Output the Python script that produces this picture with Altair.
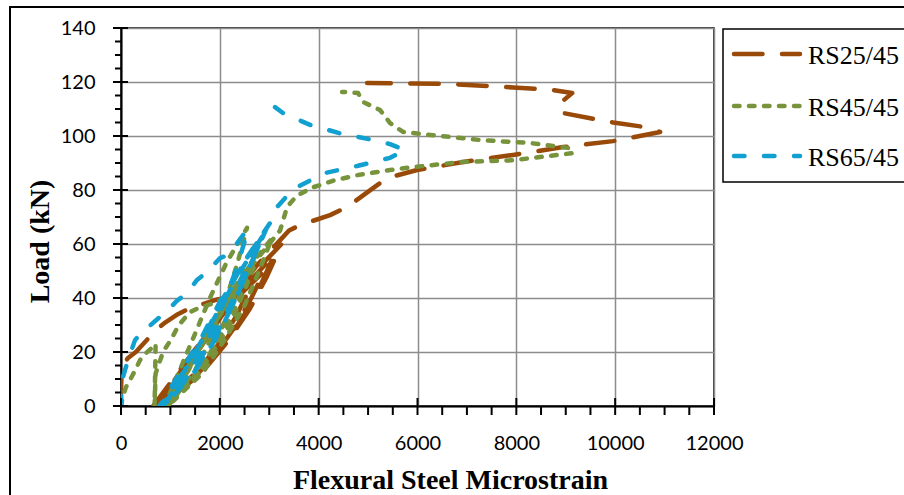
import altair as alt
import pandas as pd

series_names = ["RS25/45", "RS45/45", "RS65/45"]
series_colors = ["#994A08", "#77933C", "#12A0D0"]
series_dashes = [[28.5, 19.5], [5.5, 9.5], [10.5, 19.5]]

rs25_strain = [0, 0, 10, 40, 142, 300, 500, 700, 900, 1150, 1450, 1700, 1950, 2250, 2550,
               2322, 2056, 1714, 1296, 650,
               1055, 1460, 1888, 2338, 2900,
               2638, 2333, 1941, 1461, 720,
               1175, 1631, 2112, 2618, 3250,
               2954, 2608, 2163, 1620, 780,
               1200, 1620, 2060, 2550, 3100,
               2830, 2500, 2070, 1550, 760,
               1252, 1723, 2221, 2745, 3400,
               3623, 4231, 4575, 5101, 5385, 5992, 6923, 7935, 8947, 9960, 10911,
               10607, 9960, 8947, 8846, 9130, 8745, 7935, 6599, 4980]
rs25_load = [0, 6, 11, 15, 17.8, 20, 24, 28, 31, 34, 36.7, 38, 39.5, 40.5, 41.5,
             33, 25, 16.6, 8.3, 0,
             10, 20, 30, 40, 50,
             40, 30, 20, 10, 0,
             12, 24, 36, 48, 60,
             48, 36, 24, 12, 0,
             11, 22, 34, 45, 56,
             45, 34, 22, 11, 0,
             13, 26, 39, 52, 65,
             67, 70.7, 73.7, 80.7, 84.4, 87.4, 90.4, 93, 95.9, 98.1, 101.5,
             103.3, 105, 108.5, 111.5, 115.9, 117, 118, 119.3, 119.6]

rs45_strain = [0, 30, 100, 182, 280, 385, 500, 648, 700,
               690, 680,
               700, 850, 1025, 1170, 1397, 1600, 1862, 2100, 2300,
               2138, 1949, 1706, 1409, 950,
               1265, 1580, 1913, 2263, 2700,
               2482, 2227, 1899, 1499, 880,
               1181, 1481, 1799, 2133, 2550,
               2358, 2134, 1846, 1494, 950,
               1328, 1706, 2105, 2525, 3050,
               2794, 2496, 2113, 1644, 920,
               1250, 1600, 1950, 2300, 2700,
               2480, 2230, 1900, 1480, 900,
               1334, 1748, 2185, 2645, 3219, 3360, 3563, 3887, 4300, 4777,
               5445, 5911, 6923, 7935, 9150, 9089, 8279, 7267, 6255, 5709, 5445, 5243,
               4899, 4798, 4575, 4474]
rs45_load = [0, 3, 7, 9.6, 13, 17, 19.5, 21.9, 23,
             11, 0,
             12, 20, 25, 30, 34.8, 36.5, 38, 40, 41,
             33, 25, 16, 8, 0,
             10, 21, 31, 42, 52,
             42, 31, 21, 10, 0,
             13, 26, 40, 53, 66,
             53, 40, 26, 13, 0,
             12, 25, 37, 50, 62,
             50, 37, 25, 12, 0,
             11, 22, 33, 44, 55,
             44, 33, 22, 11, 0,
             13, 26, 39, 52, 65, 73.7, 78, 81, 83.5, 85.5,
             87.4, 88.5, 90.4, 91, 93.7, 95.5, 97.4, 98.5, 100.4, 101.5, 104.8, 109.6,
             112.6, 115.9, 116.3, 116.3]

rs65_strain = [0, 0, 30, 81, 180, 283, 450, 600, 789, 1000, 1134, 1336, 1538, 1741, 2004,
               2166, 2300, 2470, 2571,
               2355, 2105, 1782, 1389, 780,
               1214, 1648, 2039, 2473, 2950,
               2635, 2320, 1942, 1480, 850,
               1270, 1690, 2068, 2488, 2950,
               2640, 2329, 1956, 1501, 880,
               1284, 1688, 2052, 2456, 2900,
               2588, 2276, 1902, 1444, 820,
               1220, 1620, 1980, 2380, 2800,
               2500, 2200, 1830, 1390, 800,
               1240, 1680, 2080, 2520, 3016, 3158, 3320, 3563, 4130, 4777,
               5445, 5749, 5445, 5101, 4433, 3826, 3279, 3117]
rs65_load = [0, 6, 10, 13.3, 19, 24.4, 28, 30, 33, 36.5, 39, 41.8, 46.7, 49.6, 54.8,
             55.9, 59, 63.3, 65.2,
             52, 39, 26, 13, 0,
             13, 26, 40, 53, 66,
             53, 40, 26, 13, 0,
             13, 26, 40, 53, 66,
             53, 40, 26, 13, 0,
             13, 26, 38, 51, 64,
             51, 38, 26, 13, 0,
             12, 25, 37, 50, 62,
             50, 37, 25, 12, 0,
             13, 27, 40, 54, 67.8, 73.7, 77, 81.1, 86.3, 88.9,
             91.9, 94.8, 97, 98.5, 101, 104.1, 108.5, 110.7]

x_major_ticks = [0, 2000, 4000, 6000, 8000, 10000, 12000]
x_minor_ticks = [500, 1000, 1500, 2500, 3000, 3500, 4500, 5000, 5500, 6500, 7000, 7500,
                 8500, 9000, 9500, 10500, 11000, 11500]
y_major_ticks = [0, 20, 40, 60, 80, 100, 120, 140]
y_minor_ticks = [5, 10, 15, 25, 30, 35, 45, 50, 55, 65, 70, 75, 85, 90, 95,
                 105, 110, 115, 125, 130, 135]

rows = []
for name, xs, ys in zip(series_names, [rs25_strain, rs45_strain, rs65_strain],
                        [rs25_load, rs45_load, rs65_load]):
    for i, (a, b) in enumerate(zip(xs, ys)):
        rows.append({"series": name, "strain": a, "load": b, "idx": i})
df = pd.DataFrame(rows)

xscale = alt.Scale(domain=[0, 12000], nice=False, zero=False)
yscale = alt.Scale(domain=[0, 140], nice=False, zero=False)
cscale = alt.Scale(domain=series_names, range=series_colors)
dscale = alt.Scale(domain=series_names, range=series_dashes)
LW = 4.5

x_axis = alt.Axis(
    values=x_major_ticks, format="d", ticks=False,
    domainColor="black", domainWidth=2,
    grid=True, gridColor="#8c8c8c", gridWidth=1.5,
    labelFont="Lato", labelFontSize=20, labelColor="black", labelPadding=27,
    labelFlush=False,
    title="Flexural Steel Microstrain", titleFont="Liberation Serif",
    titleFontSize=28, titleFontWeight="bold", titleColor="black",
    titleX=329, titleY=82, titleAlign="center", titleBaseline="alphabetic",
)
y_axis = alt.Axis(
    values=y_major_ticks, ticks=False,
    domainColor="black", domainWidth=2,
    grid=True, gridColor="#8c8c8c", gridWidth=1.5,
    labelFont="Lato", labelFontSize=20, labelColor="black", labelPadding=26,
    labelFlush=False,
    title="Load (kN)", titleFont="Liberation Serif",
    titleFontSize=28, titleFontWeight="bold", titleColor="black",
    titleAngle=270, titleX=-81, titleY=213, titleAlign="center", titleBaseline="middle",
)

lines = alt.Chart(df).mark_line(
    strokeWidth=LW, strokeCap="round", strokeJoin="round", clip=True
).encode(
    x=alt.X("strain:Q", scale=xscale, axis=x_axis),
    y=alt.Y("load:Q", scale=yscale, axis=y_axis),
    color=alt.Color("series:N", scale=cscale, legend=None),
    strokeDash=alt.StrokeDash("series:N", scale=dscale, legend=None),
    order=alt.Order("idx:Q"),
)

xmaj = alt.Chart(pd.DataFrame({"v": x_major_ticks})).mark_rule(color="black", strokeWidth=2).encode(
    x=alt.X("v:Q", scale=xscale), y=alt.value(370), y2=alt.value(387))
xmin = alt.Chart(pd.DataFrame({"v": x_minor_ticks})).mark_rule(color="black", strokeWidth=2).encode(
    x=alt.X("v:Q", scale=xscale), y=alt.value(378), y2=alt.value(387))
ymaj = alt.Chart(pd.DataFrame({"v": y_major_ticks})).mark_rule(color="black", strokeWidth=2).encode(
    y=alt.Y("v:Q", scale=yscale), x=alt.value(-8), x2=alt.value(7))
ymin = alt.Chart(pd.DataFrame({"v": y_minor_ticks})).mark_rule(color="black", strokeWidth=2).encode(
    y=alt.Y("v:Q", scale=yscale), x=alt.value(-6), x2=alt.value(0))

frame = alt.Chart(pd.DataFrame({"a": [0]})).mark_rect(
    filled=False, stroke="black", strokeWidth=2
).encode(x=alt.value(-111), x2=alt.value(900), y=alt.value(-21), y2=alt.value(480))

# legend box and entries
legend_box = alt.Chart(pd.DataFrame({"a": [0]})).mark_rect(
    fill="white", stroke="black", strokeWidth=1.5
).encode(x=alt.value(602), x2=alt.value(800), y=alt.value(1), y2=alt.value(154))

legend_layers = [legend_box]
row_y = [26, 78, 128]
for name, ry in zip(series_names, row_y):
    ldf = pd.DataFrame({"series": [name]})
    sym = alt.Chart(ldf).mark_rule(strokeWidth=LW, strokeCap="round").encode(
        x=alt.value(613), x2=alt.value(679), y=alt.value(ry),
        color=alt.Color("series:N", scale=cscale, legend=None),
        strokeDash=alt.StrokeDash("series:N", scale=dscale, legend=None),
    )
    txt = alt.Chart(ldf).mark_text(
        font="Liberation Serif", fontSize=26, color="black", align="left", baseline="middle"
    ).encode(x=alt.value(687), y=alt.value(ry + 2), text="series:N")
    legend_layers += [sym, txt]

chart = alt.layer(frame, lines, xmaj, xmin, ymaj, ymin, *legend_layers).properties(
    width=593, height=378,
    autosize=alt.AutoSizeParams(type="none"),
    padding={"left": 121, "top": 28, "right": 190, "bottom": 89},
    background="white",
).configure_view(stroke="black", strokeWidth=1.5)

chart.save("out.html", embed_options={"renderer": "svg", "actions": False})
